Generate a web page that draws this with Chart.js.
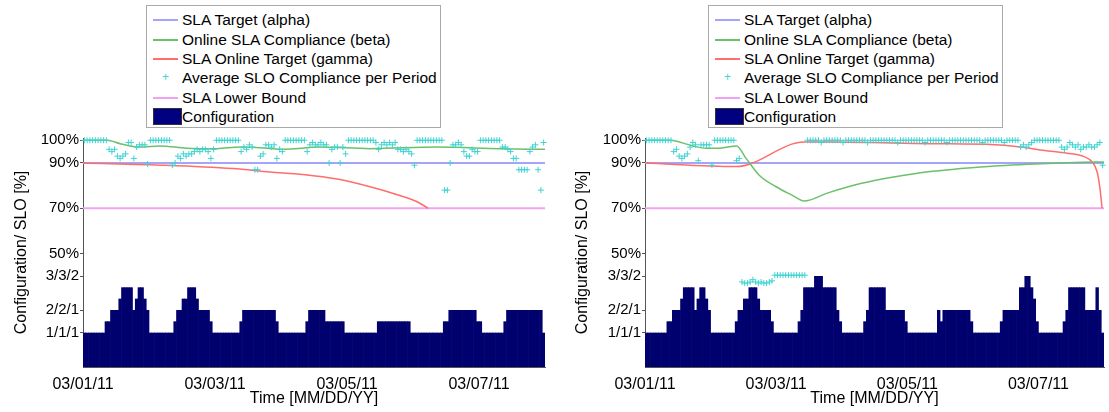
<!DOCTYPE html>
<html>
<head>
<meta charset="utf-8">
<script src="https://cdn.jsdelivr.net/npm/chart.js@4.4.1/dist/chart.umd.min.js"></script>
<style>
  body { margin: 0; background: #fff; font-family: "Liberation Sans", Arial, sans-serif; }
  #wrap { position: relative; width: 1109px; height: 412px; overflow: hidden; }
  #wrap canvas { position: absolute; top: 0; }
  .legend { position: absolute; top: 5px; width: 293px; height: 121px; border: 1px solid #aaa; background: #fff; }
  .row { position: absolute; left: 0; width: 100%; height: 19px; font-size: 15.5px; line-height: 19px; color: #000; white-space: nowrap; }
  .row .txt { position: absolute; left: 35px; top: 0; }
  .row .sw { position: absolute; left: 6px; top: 9px; width: 25px; height: 2px; }
  .row .plus { position: absolute; left: 15px; top: 0; font-size: 12px; }
  .row .box { position: absolute; left: 6px; top: 1px; width: 27px; height: 15px; border: 1px solid #333; }
</style>
</head>
<body>
<div id="wrap">
  <canvas id="left" width="560" height="412" style="left:0"></canvas>
  <canvas id="right" width="549" height="412" style="left:560px"></canvas>
</div>
<script>
// ---- shared axes / legend text ----
const xTickHours = [0, 48, 96, 144];
const xTickLabels = ['03/01/11', '03/03/11', '03/05/11', '03/07/11'];
const yTickValues = [15, 25, 40, 50, 70, 90, 100];
const yTickLabels = ['1/1/1', '2/2/1', '3/3/2', '50%', '70%', '90%', '100%'];
const legendLabels = ['SLA Target (alpha)', 'Online SLA Compliance (beta)', 'SLA Online Target (gamma)',
  'Average SLO Compliance per Period', 'SLA Lower Bound', 'Configuration'];

// constant lines, [hour, %]
const slaTargetAlpha = [[0, 90], [168, 90]];
const slaLowerBound = [[0, 70], [168, 70]];

// ---- left panel ----
// configuration level per hour (1/1/1 = 15, 2/2/1 = 25, 3/3/2 = 40)
const leftConfig = [
  15,15,15,15,15,15,15,15,20,20,25,25,25,30,35,35,35,35,25,30,35,35,30,25,
  15,15,15,15,15,15,15,15,15,20,25,25,30,30,35,35,35,30,25,25,25,25,20,15,
  15,15,15,15,15,15,15,15,15,20,25,25,25,25,25,25,25,25,25,25,25,25,20,15,
  15,15,15,15,15,15,15,15,15,20,25,25,25,25,25,25,20,20,20,20,20,20,20,15,
  15,15,15,15,15,15,15,15,15,15,15,20,20,20,20,20,20,20,20,20,20,20,20,15,
  15,15,15,15,15,15,15,15,15,15,15,20,20,25,25,25,25,25,25,25,25,25,25,20,
  20,15,15,15,15,15,15,15,15,20,25,25,25,25,25,25,25,25,25,25,25,25,25,15
];
// average SLO compliance per period (hourly)
const leftSloAvg = [
  100,100,100,100,100,100,100,100,100,96,95,96,93,92,93,94,99,99,92,97,98,98,98,89.5,
  100,100,100,100,100,100,100,100,89,90,93,92,94,93,94,94,95,96,95,96,96,95,92,96,
  100,100,100,100,100,100,100,100,100,95,97,96,98,97,87,87,93,94,98,98,97,98,92,96,
  95,100,100,100,100,100,100,100,100,95,98,99,98,98,99,98,98,90,96,97,97,90,97,94,
  100,100,100,100,100,100,100,100,100,100,99,96,98,99,98,99,98,99,96,96,95,96,95,94,
  89,100,100,100,100,100,100,100,100,100,100,78,78,90,98,98,99,98,95,93,93,96,95,95,
  100,100,100,100,100,100,100,100,97,97,96,95,92,92,87,87,87,87,95,97,98,87,78,99
];
const leftBeta = [[0, 100], [8.7, 100], [13.5, 98.5], [17, 97.5], [20.7, 97], [28, 97.5], [37.8, 96.5],
  [48.7, 96.3], [57, 97], [67, 96.5], [72.7, 96], [86, 97], [104.4, 96.3], [128.7, 97], [151.6, 96.3], [168, 96]];
const leftGamma = [[0, 90], [30, 89], [54.5, 87.5], [68, 86], [80, 84.9], [92.4, 82.9], [104.4, 79.5],
  [114, 76.1], [121.5, 72.9], [125.5, 70]];

// ---- right panel ----
const rightConfig = [
  15,15,15,15,15,15,15,15,20,20,25,25,25,30,35,35,35,35,25,30,35,35,30,25,
  15,15,15,15,15,15,15,15,15,20,25,25,30,30,35,35,35,30,25,25,25,25,20,15,
  15,15,15,15,15,15,15,15,20,25,35,35,35,35,40,40,40,35,35,35,35,35,25,20,
  15,15,15,15,15,15,15,15,20,25,35,35,35,35,35,35,25,25,25,25,25,25,25,20,
  15,15,15,15,15,15,15,15,15,15,15,25,20,25,25,25,25,25,25,25,25,25,25,20,
  15,15,15,15,15,15,15,15,15,15,20,25,25,25,25,25,25,35,35,40,40,35,30,20,
  15,15,15,15,15,15,15,15,15,20,25,35,35,35,35,35,35,25,25,25,25,35,25,15
];
const rightSloAvg = [
  100,100,100,100,100,100,100,100,100,100,95,96,93,92,93,94,97,99,98,91,98,98,98,98,
  89,100,100,100,100,100,100,100,100,91,92,37.5,37,37,37.5,38.5,37.5,37,37.5,37,37,37.5,38,
  40.5,40.5,40.5,40.5,40.5,40.5,40.5,40.5,40.5,40.5,40.5,40.5,
  100,100,100,100,100,99,100,100,100,100,100,100,100,99,100,100,100,100,100,100,
  100,100,99,100,100,100,100,100,100,100,100,100,100,99,100,100,100,100,100,100,
  100,100,100,99,100,100,100,100,100,100,100,99,100,100,100,100,100,100,100,100,
  100,100,100,100,99,100,100,100,100,100,100,100,99,100,100,100,100,100,
  97,98,97,98,99,100,100,100,100,100,100,100,100,100,100,
  97,96,97,99,98,97,98,96,97,97,98,97,97,98,99,89
];
const rightBeta = [[0, 100], [9, 100], [17.5, 97.5], [22.5, 96.5], [27.3, 96.5], [33.5, 97.5], [37, 92],
  [41.8, 84.6], [48, 79.5], [53.8, 75.8], [58.2, 73.2], [67, 76.8], [79.3, 81], [91.6, 83.9], [103.6, 86.1],
  [115.6, 87.5], [128, 88.7], [140, 89.4], [152, 90], [164.4, 90.4], [168, 90.4]];
const rightGamma = [[0, 90], [33.5, 88.4], [58.2, 99.2], [67, 99.2], [103.6, 98.5], [128, 98], [137.5, 97],
  [146.2, 95.5], [154.5, 94.3], [160.7, 92.8], [163.6, 90.5], [165.5, 86], [166.5, 79], [167.3, 70]];

const FONT = '"Liberation Sans", Arial, sans-serif';
const CYAN = '#3fd3d3';
const GREEN = '#6cc06c';
const RED = '#ff6d6d';
const BLUE = '#a4a4fa';
const PINK = '#f2a2f2';
const NAVY = '#00006e';
const AXIS = '#555';

const lineColors = [BLUE, GREEN, RED, null, PINK, null];

function buildLegend(left) {
  const box = document.createElement('div');
  box.className = 'legend';
  box.style.left = left + 'px';
  const centers = [13, 33, 52.5, 71.5, 91, 110.5];
  legendLabels.forEach((label, i) => {
    const row = document.createElement('div');
    row.className = 'row';
    row.style.top = (centers[i] - 9.5) + 'px';
    if (i === 3) {
      row.innerHTML = '<span class="plus" style="color:' + CYAN + '">+</span>';
    } else if (i === 5) {
      row.innerHTML = '<span class="box" style="background:#000080"></span>';
    } else {
      row.innerHTML = '<span class="sw" style="background:' + lineColors[i] + '"></span>';
    }
    const t = document.createElement('span');
    t.className = 'txt';
    t.textContent = label;
    row.appendChild(t);
    box.appendChild(row);
  });
  document.getElementById('wrap').appendChild(box);
}

function makePanel(id, axisWidth, padRight, titlePad, config, slo, beta, gamma) {
  const pts = arr => arr.map(p => ({ x: p[0], y: p[1] }));
  const perHour = arr => arr.map((v, i) => ({ x: i + 0.5, y: v }));

  new Chart(document.getElementById(id), {
    type: 'line',
    data: {
      datasets: [
        { type: 'scatter', data: perHour(slo), pointStyle: 'cross', pointRadius: 3,
          borderColor: CYAN, backgroundColor: CYAN, borderWidth: 1, clip: false, order: 0 },
        { data: pts(beta), borderColor: GREEN, borderWidth: 1.5, pointRadius: 0,
          cubicInterpolationMode: 'monotone', order: 1 },
        { data: pts(gamma), borderColor: RED, borderWidth: 1.5, pointRadius: 0,
          cubicInterpolationMode: 'monotone', order: 2 },
        { data: pts(slaTargetAlpha), borderColor: BLUE, borderWidth: 2, pointRadius: 0, order: 3 },
        { data: pts(slaLowerBound), borderColor: PINK, borderWidth: 2, pointRadius: 0, order: 4 },
        { type: 'bar', data: perHour(config), backgroundColor: NAVY, borderWidth: 0,
          barPercentage: 1, categoryPercentage: 1, order: 5 }
      ]
    },
    options: {
      responsive: false,
      animation: false,
      layout: { padding: { top: 138, right: padRight, left: 0, bottom: 0 } },
      plugins: { legend: { display: false }, tooltip: { enabled: false } },
      scales: {
        x: {
          type: 'linear', min: 0, max: 168, offset: false,
          afterBuildTicks: s => { s.ticks = xTickHours.map(v => ({ value: v })); },
          afterFit: s => { s.height = 45; },
          ticks: { callback: (v, i) => xTickLabels[i], font: { size: 16, family: FONT }, color: '#000',
            padding: 0, maxRotation: 0, autoSkip: false },
          grid: { display: false, offset: false },
          border: { display: true, color: AXIS },
          title: { display: true, text: 'Time [MM/DD/YY]', font: { size: 16, family: FONT }, color: '#000',
            padding: { top: 0, bottom: 4 } }
        },
        y: {
          min: 0, max: 101,
          afterBuildTicks: s => { s.ticks = yTickValues.map(v => ({ value: v })); },
          afterFit: s => { s.width = axisWidth; },
          ticks: { callback: (v, i) => yTickLabels[i], font: { size: 15, family: FONT }, color: '#000',
            padding: 1, autoSkip: false },
          grid: { display: true, drawOnChartArea: false, tickLength: 3, color: AXIS },
          border: { display: true, color: AXIS },
          title: { display: true, text: 'Configuration/ SLO [%]', font: { size: 16, family: FONT }, color: '#000',
            padding: { top: titlePad, bottom: 0 } }
        }
      }
    }
  });
}

makePanel('left', 83, 15, 12, leftConfig, leftSloAvg, leftBeta, leftGamma);
makePanel('right', 85, 2, 13, rightConfig, rightSloAvg, rightBeta, rightGamma);
buildLegend(146);
buildLegend(708);
</script>
</body>
</html>
